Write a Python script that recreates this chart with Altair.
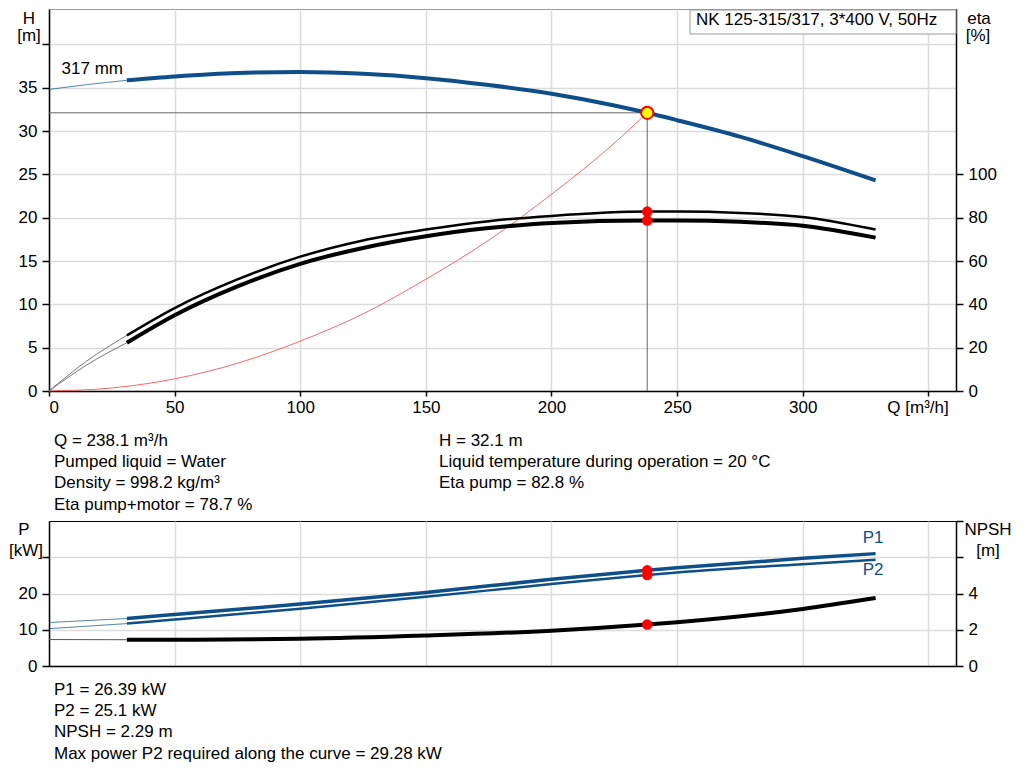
import pandas as pd
import altair as alt

FONT = "Liberation Sans"
FS = 17
BLUE = "#0e4f8a"
RED = "#ff0000"

# ---- axes ----
Q_MAX = 361
Q_TICKS = [0, 50, 100, 150, 200, 250, 300, 350]
H_TICKS = [0, 5, 10, 15, 20, 25, 30, 35, 40]
ETA_TICKS = [0, 20, 40, 60, 80, 100]
P_TICKS = [0, 10, 20, 30]
NPSH_TICKS = [0, 2, 4, 6, 8]

# ---- duty point ----
Q_DUTY = 238.1
H_DUTY = 32.1
ETA_PUMP_DUTY = 82.8
ETA_TOTAL_DUTY = 78.7
P1_DUTY = 26.39
P2_DUTY = 25.1
NPSH_DUTY = 2.29

# ---- QH curve (317 mm) ----
q_h = [31, 50, 75, 100, 125, 150, 175, 200, 225, 238.1, 250, 275, 300, 329]
h_vals = [35.85, 36.3, 36.7, 36.8, 36.6, 36.1, 35.3, 34.3, 32.95, 32.1, 31.25, 29.35, 27.1, 24.3]
q_h_ext = [0, 15, 31]
h_ext = [34.8, 35.35, 35.85]

# ---- system curve ----
q_sys = [0, 25, 50, 75, 100, 125, 150, 175, 200, 225, 238.1]
h_sys = [0, 0.35, 1.4, 3.2, 5.75, 8.9, 12.9, 17.4, 22.7, 28.6, 32.1]

# ---- efficiency curves ----
q_eta = [31, 50, 75, 100, 125, 150, 175, 200, 238.1, 250, 275, 300, 329]
eta_pump = [25.7, 38.3, 51.5, 62.0, 69.5, 74.5, 78.4, 80.8, 82.8, 82.8, 82.2, 80.3, 74.5]
eta_total = [22.3, 35.0, 48.3, 58.7, 66.0, 71.4, 75.2, 77.6, 78.7, 78.7, 78.1, 76.3, 70.8]
q_eta_ext = [0, 15, 31]
eta_pump_ext = [0, 13.8, 25.7]
eta_total_ext = [0, 12.0, 22.3]

# ---- power / NPSH curves ----
q_p = [31, 50, 100, 150, 200, 238.1, 250, 300, 329]
p1_vals = [13.1, 14.2, 17.1, 20.3, 23.9, 26.39, 27.1, 29.7, 31.0]
p2_vals = [11.7, 12.8, 15.8, 19.1, 22.6, 25.1, 25.8, 28.1, 29.28]
npsh_vals = [1.45, 1.45, 1.5, 1.68, 1.95, 2.29, 2.42, 3.15, 3.75]
q_p_ext = [0, 31]
p1_ext = [12.0, 13.1]
p2_ext = [10.3, 11.7]
npsh_ext = [1.46, 1.45]

info_left = ["Q = 238.1 m³/h", "Pumped liquid = Water", "Density = 998.2 kg/m³",
             "Eta pump+motor = 78.7 %"]
info_right = ["H = 32.1 m", "Liquid temperature during operation = 20 °C", "Eta pump = 82.8 %"]
info_bottom = ["P1 = 26.39 kW", "P2 = 25.1 kW", "NPSH = 2.29 m",
               "Max power P2 required along the curve = 29.28 kW"]
TITLE = "NK 125-315/317, 3*400 V, 50Hz"

H_TOP = 44.08   # top of visible head range
TOP_W, TOP_H = 907, 382
BOT_H = 145


def df(q, v, name):
    return pd.DataFrame({"Q": q, name: v})


def label(text, x, y, align="left", baseline="middle", color="black", line_h=None):
    kw = dict(align=align, baseline=baseline, font=FONT, fontSize=FS, color=color)
    if line_h:
        kw.update(lineBreak="\n", lineHeight=line_h)
    return alt.Chart(pd.DataFrame({"t": [text]})).mark_text(**kw).encode(
        x=alt.value(x), y=alt.value(y), text="t:N")


def curve(data, x, y, color, width, opacity=1):
    return alt.Chart(data).mark_line(color=color, strokeWidth=width, opacity=opacity,
                                     interpolate="monotone").encode(x=x, y=y)


x_top = alt.X("Q:Q", title=None, scale=alt.Scale(domain=[0, Q_MAX], nice=False),
              axis=alt.Axis(values=Q_TICKS, labelExpr="datum.value == 350 ? '' : datum.label",
                            tickSize=5, labelPadding=3, grid=True))
x_bot = alt.X("Q:Q", title=None, scale=alt.Scale(domain=[0, Q_MAX], nice=False),
              axis=alt.Axis(values=Q_TICKS, labels=False, ticks=False, grid=True))

y_h = lambda f: alt.Y(f, title=None, scale=alt.Scale(domain=[0, H_TOP], nice=False),
                      axis=alt.Axis(values=H_TICKS, orient="left", tickSize=7, labelPadding=5,
                                    labelExpr="datum.value == 40 ? '' : datum.label"))
y_eta = lambda f: alt.Y(f, title=None, scale=alt.Scale(domain=[0, H_TOP * 4], nice=False),
                        axis=alt.Axis(values=ETA_TICKS, orient="right", tickSize=7, labelPadding=5,
                                      grid=False))
y_p = lambda f: alt.Y(f, title=None, scale=alt.Scale(domain=[0, 40], nice=False),
                      axis=alt.Axis(values=P_TICKS, orient="left", tickSize=7, labelPadding=5,
                                    labelExpr="datum.value == 30 ? '' : datum.label"))
y_npsh = lambda f: alt.Y(f, title=None, scale=alt.Scale(domain=[0, 8], nice=False),
                         axis=alt.Axis(values=NPSH_TICKS, orient="right", tickSize=7, labelPadding=5,
                                       grid=False, labelExpr="datum.value > 4 ? '' : datum.label"))

# ---------------- top panel ----------------
duty = pd.DataFrame({"Q0": [0], "Q": [Q_DUTY], "H0": [0], "H": [H_DUTY]})

h_layer = alt.layer(
    curve(df(q_sys, h_sys, "H"), x_top, y_h("H:Q"), "#ff4040", 1, 0.8),
    alt.Chart(duty).mark_rule(color="#666666", strokeWidth=1).encode(x="Q0:Q", x2="Q", y=y_h("H:Q")),
    alt.Chart(duty).mark_rule(color="#666666", strokeWidth=1).encode(x=x_top, y=y_h("H0:Q"), y2="H"),
    curve(df(q_h_ext, h_ext, "H"), x_top, y_h("H:Q"), BLUE, 1, 0.7),
    curve(df(q_h, h_vals, "H"), x_top, y_h("H:Q"), BLUE, 4),
    alt.Chart(duty).mark_point(shape="circle", filled=True, fill="#ffff00", stroke=RED,
                               strokeWidth=2, size=150, opacity=1)
    .encode(x=x_top, y=y_h("H:Q")),
    alt.Chart(pd.DataFrame({"Q": [5], "H": [37.15], "t": ["317 mm"]}))
    .mark_text(align="left", baseline="middle", font=FONT, fontSize=FS, color="black")
    .encode(x=x_top, y=y_h("H:Q"), text="t:N"),
)

eta_pts = pd.DataFrame({"Q": [Q_DUTY, Q_DUTY], "eta": [ETA_PUMP_DUTY, ETA_TOTAL_DUTY]})
eta_layer = alt.layer(
    curve(df(q_eta_ext, eta_pump_ext, "eta"), x_top, y_eta("eta:Q"), "#777777", 1),
    curve(df(q_eta_ext, eta_total_ext, "eta"), x_top, y_eta("eta:Q"), "#777777", 1),
    curve(df(q_eta, eta_pump, "eta"), x_top, y_eta("eta:Q"), "black", 2.5),
    curve(df(q_eta, eta_total, "eta"), x_top, y_eta("eta:Q"), "black", 4),
    alt.Chart(eta_pts).mark_circle(color=RED, size=110, opacity=1)
    .encode(x=x_top, y=y_eta("eta:Q")),
)

top = alt.layer(
    h_layer,
    eta_layer,
    alt.Chart(pd.DataFrame({"t": [""]})).mark_rect(fill="white", stroke="#999999", strokeWidth=1)
    .encode(x=alt.value(641), x2=alt.value(907), y=alt.value(1), y2=alt.value(25)),
    label(TITLE, 647, 11),
    label("H", -20, 2, align="center", baseline="top"),
    label("[m]", -20, 27, align="center"),
    label("eta", 930, 2, align="center", baseline="top"),
    label("[%]", 929, 27, align="center"),
    label("Q [m³/h]", 869, 399, align="center"),
    label("\n".join(info_left), 5, 437, baseline="alphabetic", line_h=21.2),
    label("\n".join(info_right), 390, 437, baseline="alphabetic", line_h=21.2),
).resolve_scale(y="independent").properties(
    width=TOP_W, height=TOP_H, view=alt.ViewBackground(stroke="#999999"))

# ---------------- bottom panel ----------------
p_pts = pd.DataFrame({"Q": [Q_DUTY, Q_DUTY], "P": [P1_DUTY, P2_DUTY]})
p_layer = alt.layer(
    curve(df(q_p_ext, p1_ext, "P"), x_bot, y_p("P:Q"), BLUE, 1, 0.7),
    curve(df(q_p_ext, p2_ext, "P"), x_bot, y_p("P:Q"), BLUE, 1, 0.7),
    curve(df(q_p, p1_vals, "P"), x_bot, y_p("P:Q"), BLUE, 3.5),
    curve(df(q_p, p2_vals, "P"), x_bot, y_p("P:Q"), BLUE, 2.5),
    alt.Chart(p_pts).mark_circle(color=RED, size=110, opacity=1)
    .encode(x=x_bot, y=y_p("P:Q")),
    alt.Chart(pd.DataFrame({"Q": [328, 328], "P": [35.3, 26.4], "t": ["P1", "P2"]}))
    .mark_text(align="center", baseline="middle", font=FONT, fontSize=FS, color=BLUE)
    .encode(x=x_bot, y=y_p("P:Q"), text="t:N"),
)

npsh_layer = alt.layer(
    curve(df(q_p_ext, npsh_ext, "NPSH"), x_bot, y_npsh("NPSH:Q"), "#555555", 1),
    curve(df(q_p, npsh_vals, "NPSH"), x_bot, y_npsh("NPSH:Q"), "black", 4),
    alt.Chart(pd.DataFrame({"Q": [Q_DUTY], "NPSH": [NPSH_DUTY]}))
    .mark_circle(color=RED, size=110, opacity=1)
    .encode(x=x_bot, y=y_npsh("NPSH:Q")),
)

bottom = alt.layer(
    p_layer,
    npsh_layer,
    label("P", -25, 9, align="center"),
    label("[kW]", -40, 30),
    label("NPSH", 939, 9, align="center"),
    label("[m]", 939, 30, align="center"),
    label("\n".join(info_bottom), 5, 174, baseline="alphabetic", line_h=21.2),
).resolve_scale(y="independent").properties(
    width=TOP_W, height=BOT_H, view=alt.ViewBackground(stroke="black"))

chart = alt.vconcat(top, bottom, spacing=130, bounds="flush").properties(
    padding=0
).configure_axis(
    labelFont=FONT, labelFontSize=FS, labelColor="black",
    domainColor="black", domainWidth=1.5, tickColor="black", tickWidth=1.5,
    gridColor="#dcdcdc", gridWidth=1.5,
).configure_view(stroke="#999999")

chart.save("out.html", embed_options={"renderer": "svg", "actions": False})
